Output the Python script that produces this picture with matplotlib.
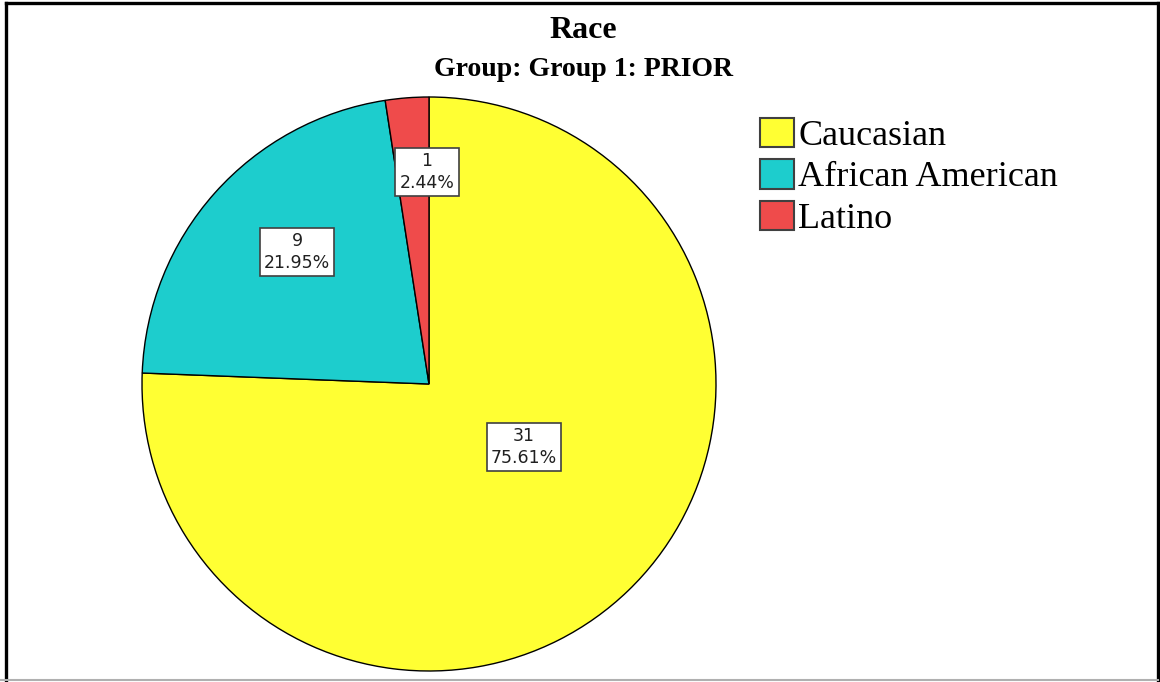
import matplotlib.pyplot as plt
from matplotlib.patches import Rectangle
from matplotlib.lines import Line2D

categories = ["Caucasian", "African American", "Latino"]
counts = [31, 9, 1]
colors = ["#FFFF33", "#1DCDCD", "#EF4B4B"]

# where each count/percent box sits, in pie units (radius = 1)
label_pos = [(0.331, -0.22), (-0.46, 0.46), (-0.007, 0.739)]

W, H = 1160, 682
fig = plt.figure(figsize=(W / 100, H / 100), dpi=100)

# outer frame
fig.add_artist(Line2D([6 / W, 6 / W], [0, 1 - 3 / H], color="black", lw=2.4))
fig.add_artist(Line2D([6 / W, 1158 / W], [1 - 3 / H, 1 - 3 / H], color="black", lw=2.4))
fig.add_artist(Line2D([1158 / W, 1158 / W], [2 / H, 1 - 3 / H], color="black", lw=2.4))
fig.add_artist(Line2D([0, 1158 / W], [2 / H, 2 / H], color="#B0B0B0", lw=1.5))

fig.text(583 / W, 1 - 31 / H, "Race", ha="center", va="center",
         family="Liberation Serif", weight="bold", fontsize=23)
fig.text(584 / W, 1 - 69 / H, "Group: Group 1: PRIOR", ha="center", va="center",
         family="Liberation Serif", weight="bold", fontsize=20)

cx, cy, r = 429, 384, 287
ax = fig.add_axes([(cx - r) / W, (H - cy - r) / H, 2 * r / W, 2 * r / H])
ax.axis("off")

wedges, _ = ax.pie(
    counts,
    colors=colors,
    startangle=90,
    counterclock=False,
    radius=1,
    wedgeprops=dict(edgecolor="black", linewidth=1.0),
)
ax.set_aspect("auto")
ax.set_xlim(-1.0, 1.0)
ax.set_ylim(-1.0, 1.0)

total = sum(counts)
for n, (x, y) in zip(counts, label_pos):
    ax.text(x, y, f"{n}\n{n / total * 100:.2f}%", ha="center", va="center",
            family="DejaVu Sans", fontsize=12.5, linespacing=1.25, color="#202020",
            bbox=dict(boxstyle="square,pad=0.24", facecolor="white",
                      edgecolor="#404040", linewidth=1.2))

handles = [Rectangle((0, 0), 1, 1, facecolor=c, edgecolor="#404040", linewidth=1.5)
           for c in colors]
fig.legend(handles, categories, loc="upper left",
           bbox_to_anchor=(760 / W, 1 - 118 / H),
           prop=dict(family="Liberation Serif", size=26),
           frameon=False, handlelength=0.94, handleheight=0.87,
           handletextpad=0.12, labelspacing=0.17, borderaxespad=0, borderpad=0)

fig.savefig("out.png", dpi=100)
